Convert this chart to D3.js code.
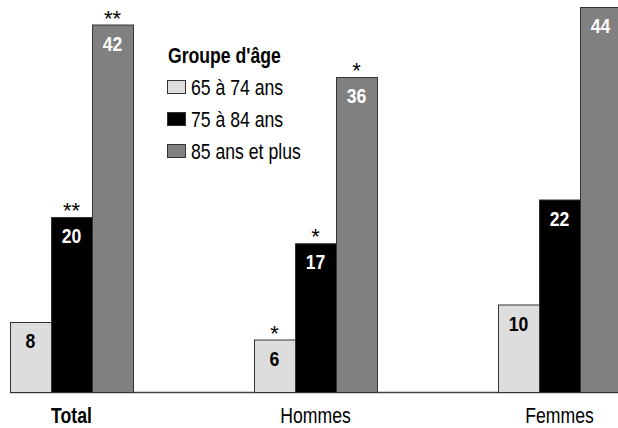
<!DOCTYPE html>
<html>
<head>
<meta charset="utf-8">
<script src="https://cdn.jsdelivr.net/npm/d3@7"></script>
<style>
  body { margin: 0; background: #fff; }
  svg text { font-family: "Liberation Sans", Arial, sans-serif; }
</style>
</head>
<body>
<svg width="618" height="428"></svg>
<script>
// Data
const categories = ["Total", "Hommes", "Femmes"];
const series = ["65 à 74 ans", "75 à 84 ans", "85 ans et plus"];
const values65 = [8, 6, 10];
const values75 = [20, 17, 22];
const values85 = [42, 36, 44];
const stars65 = ["", "*", ""];
const stars75 = ["**", "*", ""];
const stars85 = ["**", "*", ""];
const colors = ["#dddddd", "#000000", "#808080"];
const labelColors = ["#000000", "#ffffff", "#ffffff"];
const legendTitle = "Groupe d'âge";

const svg = d3.select("svg");
const baseY = 392;
const narrow = 0.82; // condensed look, no narrow font installed

// Scales
const x0 = d3.scaleBand()
             .domain(categories)
             .range([10, 621])
             .paddingInner(121 / 244)
             .paddingOuter(0);
const x1 = d3.scaleBand()
             .domain(series)
             .range([0, x0.bandwidth()]);
const y = d3.scaleLinear()
            .domain([0, 44.8])
            .range([baseY, 0]);

// Place text at (x, y) squeezed horizontally
function place(x, yy, sx) {
    return `translate(${x},${yy}) scale(${sx},1)`;
}

// Build rows per category
const rows = categories.map((c, i) => ({
    cat: c,
    items: [
        { s: series[0], v: values65[i], star: stars65[i], k: 0 },
        { s: series[1], v: values75[i], star: stars75[i], k: 1 },
        { s: series[2], v: values85[i], star: stars85[i], k: 2 }
    ]
}));

// Baseline
svg.append("line")
   .attr("x1", x0.range()[0])
   .attr("x2", 618)
   .attr("y1", baseY + 0.5)
   .attr("y2", baseY + 0.5)
   .attr("stroke", "#444")
   .attr("stroke-width", 1.5);

const groups = svg.selectAll("g.cat")
                  .data(rows)
                  .enter()
                  .append("g")
                  .attr("class", "cat")
                  .attr("transform", d => `translate(${x0(d.cat)},0)`);

groups.selectAll("rect")
      .data(d => d.items)
      .enter()
      .append("rect")
      .attr("x", d => x1(d.s) + 0.5)
      .attr("y", d => y(d.v) + 0.5)
      .attr("width", x1.bandwidth())
      .attr("height", d => baseY - y(d.v))
      .attr("fill", d => colors[d.k])
      .attr("stroke", "#333")
      .attr("stroke-width", 1);

// Value labels inside bars
groups.selectAll("text.val")
      .data(d => d.items)
      .enter()
      .append("text")
      .attr("class", "val")
      .attr("transform", d => place(x1(d.s) + x1.bandwidth() / 2, y(d.v) + 26, 0.88))
      .attr("text-anchor", "middle")
      .style("font-size", "20px")
      .style("font-weight", "bold")
      .style("fill", d => labelColors[d.k])
      .text(d => d.v);

// Significance stars
groups.selectAll("text.star")
      .data(d => d.items.filter(e => e.star))
      .enter()
      .append("text")
      .attr("class", "star")
      .attr("transform", d => place(x1(d.s) + x1.bandwidth() / 2, y(d.v) + 1, 1))
      .attr("text-anchor", "middle")
      .style("font-size", "22px")
      .style("fill", "#000")
      .text(d => d.star);

// Category labels
groups.append("text")
      .attr("transform", place(x0.bandwidth() / 2, 423, narrow))
      .attr("text-anchor", "middle")
      .style("font-size", "21.5px")
      .style("font-weight", d => d.cat === "Total" ? "bold" : "normal")
      .style("fill", "#000")
      .text(d => d.cat);

// Legend
const legend = svg.append("g")
                  .attr("transform", "translate(167, 63)");

legend.append("text")
      .attr("transform", place(1, 0, narrow))
      .style("font-size", "21.5px")
      .style("font-weight", "bold")
      .text(legendTitle);

const li = legend.selectAll("g.item")
                 .data(series)
                 .enter()
                 .append("g")
                 .attr("class", "item")
                 .attr("transform", (d, i) => `translate(0, ${17 + i * 32})`);

li.append("rect")
  .attr("x", 0.5)
  .attr("y", 0.5)
  .attr("width", 18)
  .attr("height", 13)
  .attr("fill", (d, i) => colors[i])
  .attr("stroke", "#333");

li.append("text")
  .attr("transform", place(24, 15, narrow))
  .style("font-size", "21.5px")
  .style("fill", "#000")
  .text(d => d);
</script>
</body>
</html>
